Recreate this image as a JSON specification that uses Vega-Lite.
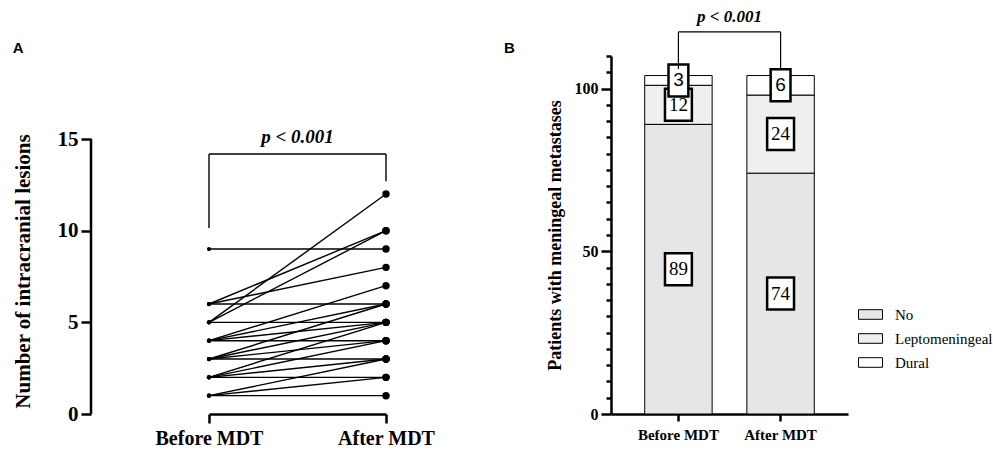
{
  "$schema": "https://vega.github.io/schema/vega-lite/v6.json",
  "background": "white",
  "padding": {"left": 12, "top": 7, "right": 0, "bottom": 0},
  "bounds": "flush",
  "spacing": 113,
  "config": {
    "view": {"stroke": null},
    "axis": {
      "domainColor": "black", "tickColor": "black", "labelColor": "black", "titleColor": "black",
      "domainWidth": 2.5, "tickWidth": 2.5, "grid": false,
      "labelFont": "Liberation Serif", "titleFont": "Liberation Serif",
      "labelFontWeight": "bold", "titleFontWeight": "bold"
    }
  },
  "hconcat": [
    {
      "width": 407,
      "height": 358,
      "resolve": {"scale": {"x": "independent"}},
      "layer": [
        {
          "data": {"values": [
            {"id": 1, "time": "Before MDT", "lesions": 1}, {"id": 1, "time": "After MDT", "lesions": 1},
            {"id": 2, "time": "Before MDT", "lesions": 1}, {"id": 2, "time": "After MDT", "lesions": 2},
            {"id": 3, "time": "Before MDT", "lesions": 1}, {"id": 3, "time": "After MDT", "lesions": 3},
            {"id": 4, "time": "Before MDT", "lesions": 2}, {"id": 4, "time": "After MDT", "lesions": 2},
            {"id": 5, "time": "Before MDT", "lesions": 2}, {"id": 5, "time": "After MDT", "lesions": 3},
            {"id": 6, "time": "Before MDT", "lesions": 2}, {"id": 6, "time": "After MDT", "lesions": 4},
            {"id": 7, "time": "Before MDT", "lesions": 2}, {"id": 7, "time": "After MDT", "lesions": 5},
            {"id": 8, "time": "Before MDT", "lesions": 3}, {"id": 8, "time": "After MDT", "lesions": 3},
            {"id": 9, "time": "Before MDT", "lesions": 3}, {"id": 9, "time": "After MDT", "lesions": 4},
            {"id": 10, "time": "Before MDT", "lesions": 3}, {"id": 10, "time": "After MDT", "lesions": 5},
            {"id": 11, "time": "Before MDT", "lesions": 3}, {"id": 11, "time": "After MDT", "lesions": 6},
            {"id": 12, "time": "Before MDT", "lesions": 4}, {"id": 12, "time": "After MDT", "lesions": 4},
            {"id": 13, "time": "Before MDT", "lesions": 4}, {"id": 13, "time": "After MDT", "lesions": 5},
            {"id": 14, "time": "Before MDT", "lesions": 4}, {"id": 14, "time": "After MDT", "lesions": 6},
            {"id": 15, "time": "Before MDT", "lesions": 4}, {"id": 15, "time": "After MDT", "lesions": 7},
            {"id": 16, "time": "Before MDT", "lesions": 5}, {"id": 16, "time": "After MDT", "lesions": 5},
            {"id": 17, "time": "Before MDT", "lesions": 5}, {"id": 17, "time": "After MDT", "lesions": 10},
            {"id": 18, "time": "Before MDT", "lesions": 5}, {"id": 18, "time": "After MDT", "lesions": 12},
            {"id": 19, "time": "Before MDT", "lesions": 6}, {"id": 19, "time": "After MDT", "lesions": 6},
            {"id": 20, "time": "Before MDT", "lesions": 6}, {"id": 20, "time": "After MDT", "lesions": 8},
            {"id": 21, "time": "Before MDT", "lesions": 6}, {"id": 21, "time": "After MDT", "lesions": 10},
            {"id": 22, "time": "Before MDT", "lesions": 9}, {"id": 22, "time": "After MDT", "lesions": 9}
          ]},
          "layer": [
            {
              "mark": {"type": "line", "color": "black", "strokeWidth": 1.4},
              "encoding": {
                "x": {"field": "time", "type": "nominal",
                      "scale": {"type": "point", "domain": ["Before MDT", "After MDT"], "range": [118, 295], "padding": 0},
                      "axis": {"title": null, "labelFont": "Liberation Serif", "labelFontWeight": "bold", "labelFontSize": 20, "tickSize": 9, "labelPadding": 5, "labelAngle": 0}},
                "y": {"field": "lesions", "type": "quantitative",
                      "scale": {"domain": [0, 19.53], "nice": false, "zero": true},
                      "axis": {"title": "Number of intracranial lesions", "titleFont": "Liberation Serif", "titleFontWeight": "bold", "titleFontSize": 21, "titleY": 215, "titlePadding": 24,
                               "values": [0, 5, 10, 15], "domain": false, "tickSize": 10,
                               "labelFont": "Liberation Serif", "labelFontWeight": "bold", "labelFontSize": 21, "labelPadding": 3}},
                "detail": {"field": "id", "type": "nominal"}
              }
            },
            {
              "mark": {"type": "point", "filled": true, "color": "black", "opacity": 1},
              "encoding": {
                "x": {"field": "time", "type": "nominal"},
                "y": {"field": "lesions", "type": "quantitative"},
                "size": {"field": "time", "type": "nominal",
                         "scale": {"domain": ["Before MDT", "After MDT"], "range": [18, 55]}, "legend": null}
              }
            },
            {
              "data": {"values": [{}]},
              "mark": {"type": "rule", "color": "black", "strokeWidth": 1.4},
              "encoding": {"x": {"datum": "Before MDT", "type": "nominal"}, "y": {"datum": 10.15, "type": "quantitative"}, "y2": {"datum": 14.18}}
            },
            {
              "data": {"values": [{}]},
              "mark": {"type": "rule", "color": "black", "strokeWidth": 1.4},
              "encoding": {"x": {"datum": "Before MDT", "type": "nominal"}, "x2": {"datum": "After MDT"}, "y": {"datum": 14.18, "type": "quantitative"}}
            },
            {
              "data": {"values": [{}]},
              "mark": {"type": "rule", "color": "black", "strokeWidth": 1.4},
              "encoding": {"x": {"datum": "After MDT", "type": "nominal"}, "y": {"datum": 12.7, "type": "quantitative"}, "y2": {"datum": 14.18}}
            },
            {
              "data": {"values": [{}]},
              "mark": {"type": "text", "text": "p < 0.001", "font": "Liberation Serif", "fontStyle": "italic", "fontWeight": "bold", "fontSize": 19, "dx": 88.5, "baseline": "alphabetic", "color": "black"},
              "encoding": {"x": {"datum": "Before MDT", "type": "nominal"}, "y": {"datum": 14.8, "type": "quantitative"}}
            }
          ]
        },
        {
          "data": {"values": [{}]},
          "layer": [
            {
              "mark": {"type": "rule", "color": "black", "strokeWidth": 2.5},
              "encoding": {
                "x": {"datum": 0, "type": "quantitative", "scale": {"domain": [0, 1]}, "axis": null},
                "y": {"datum": 0, "type": "quantitative"},
                "y2": {"datum": 15}
              }
            },
            {
              "mark": {"type": "text", "text": "A", "font": "Liberation Sans", "fontWeight": "bold", "fontSize": 15, "baseline": "alphabetic", "align": "center", "color": "black"},
              "encoding": {
                "x": {"datum": -0.179, "type": "quantitative"},
                "y": {"datum": 19.69, "type": "quantitative"}
              }
            }
          ]
        }
      ]
    },
    {
      "width": 237,
      "height": 358,
      "layer": [
        {
          "data": {"values": [
            {"group": "Before MDT", "type": "No", "count": 89},
            {"group": "Before MDT", "type": "Leptomeningeal", "count": 12},
            {"group": "Before MDT", "type": "Dural", "count": 3},
            {"group": "After MDT", "type": "No", "count": 74},
            {"group": "After MDT", "type": "Leptomeningeal", "count": 24},
            {"group": "After MDT", "type": "Dural", "count": 6}
          ]},
          "transform": [
            {"stack": "count", "groupby": ["group"], "sort": [{"field": "type", "order": "descending"}], "as": ["y0", "y1"]},
            {"calculate": "(datum.y0 + datum.y1) / 2", "as": "mid"}
          ],
          "layer": [
            {
              "mark": {"type": "bar", "stroke": "black", "strokeWidth": 1},
              "encoding": {
                "x": {"field": "group", "type": "nominal",
                      "scale": {"domain": ["Before MDT", "After MDT"], "paddingInner": 0.34, "paddingOuter": 0.33},
                      "axis": {"title": null, "labelAngle": 0, "labelFont": "Liberation Serif", "labelFontWeight": "bold", "labelFontSize": 15, "tickSize": 7, "labelPadding": 6}},
                "y": {"field": "y0", "type": "quantitative",
                      "scale": {"domain": [0, 110], "nice": false},
                      "axis": {"title": "Patients with meningeal metastases", "titleFont": "Liberation Serif", "titleFontWeight": "bold", "titleFontSize": 18, "titlePadding": 10,
                               "tickCount": 22,
                               "labelExpr": "datum.value % 50 === 0 ? datum.label : ''",
                               "labelOverlap": false,
                               "tickSize": {"condition": {"test": "datum.value % 50 === 0", "value": 10}, "value": 5},
                               "labelFont": "Liberation Serif", "labelFontWeight": "bold", "labelFontSize": 16, "labelPadding": 3}},
                "y2": {"field": "y1"},
                "fill": {"field": "type", "type": "nominal",
                         "scale": {"domain": ["No", "Leptomeningeal", "Dural"], "range": ["#e6e6e6", "#efefef", "#ffffff"]},
                         "legend": {"title": null, "orient": "none", "legendX": 767, "legendY": 246, "padding": 0,
                                    "symbolType": "M-1,-0.4H1V0.4H-1Z", "symbolSize": 576,
                                    "symbolStrokeColor": "black", "symbolStrokeWidth": 1,
                                    "labelFont": "Liberation Serif", "labelFontSize": 15, "labelColor": "black",
                                    "labelOffset": 12, "rowPadding": 3}}
              }
            },
            {
              "transform": [{"filter": "datum.count >= 10"}],
              "mark": {"type": "point", "shape": "M-0.84,-1H0.84V1H-0.84Z", "size": 1024, "filled": true, "fill": "white", "stroke": "black", "strokeWidth": 2.5, "opacity": 1},
              "encoding": {"x": {"field": "group", "type": "nominal"}, "y": {"field": "mid", "type": "quantitative"}}
            },
            {
              "transform": [{"filter": "datum.count < 10"}],
              "mark": {"type": "point", "shape": "M-0.62,-1H0.62V1H-0.62Z", "size": 1024, "filled": true, "fill": "white", "stroke": "black", "strokeWidth": 2.5, "opacity": 1},
              "encoding": {"x": {"field": "group", "type": "nominal"}, "y": {"field": "mid", "type": "quantitative"}}
            },
            {
              "transform": [{"filter": "datum.count >= 10"}],
              "mark": {"type": "text", "font": "Liberation Serif", "fontSize": 19, "color": "black", "baseline": "middle"},
              "encoding": {"x": {"field": "group", "type": "nominal"}, "y": {"field": "mid", "type": "quantitative"}, "text": {"field": "count", "type": "quantitative"}}
            },
            {
              "transform": [{"filter": "datum.count < 10"}],
              "mark": {"type": "text", "font": "Liberation Sans", "fontSize": 19, "color": "black", "baseline": "middle"},
              "encoding": {"x": {"field": "group", "type": "nominal"}, "y": {"field": "mid", "type": "quantitative"}, "text": {"field": "count", "type": "quantitative"}}
            }
          ]
        },
        {
          "data": {"values": [{}]},
          "layer": [
            {
              "mark": {"type": "rule", "color": "black", "strokeWidth": 1.2},
              "encoding": {"x": {"datum": "Before MDT", "type": "nominal"}, "y": {"datum": 106, "type": "quantitative"}, "y2": {"datum": 117.4}}
            },
            {
              "mark": {"type": "rule", "color": "black", "strokeWidth": 1.2},
              "encoding": {"x": {"datum": "After MDT", "type": "nominal"}, "y": {"datum": 106, "type": "quantitative"}, "y2": {"datum": 117.4}}
            },
            {
              "mark": {"type": "rule", "color": "black", "strokeWidth": 1.2},
              "encoding": {"x": {"datum": "Before MDT", "type": "nominal"}, "x2": {"datum": "After MDT"}, "y": {"datum": 117.4, "type": "quantitative"}}
            },
            {
              "mark": {"type": "text", "text": "p < 0.001", "font": "Liberation Serif", "fontStyle": "italic", "fontWeight": "bold", "fontSize": 17, "dx": 51, "baseline": "alphabetic", "color": "black"},
              "encoding": {"x": {"datum": "Before MDT", "type": "nominal"}, "y": {"datum": 120.5, "type": "quantitative"}}
            },
            {
              "mark": {"type": "text", "text": "B", "font": "Liberation Sans", "fontWeight": "bold", "fontSize": 15, "dx": -169, "baseline": "alphabetic", "color": "black"},
              "encoding": {"x": {"datum": "Before MDT", "type": "nominal"}, "y": {"datum": 110.9, "type": "quantitative"}}
            }
          ]
        }
      ]
    }
  ]
}
